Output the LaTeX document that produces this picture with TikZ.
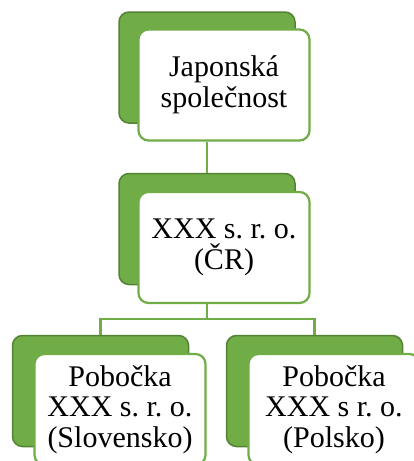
\documentclass[tikz,border=0pt]{standalone}
\usepackage{fontspec}
\setmainfont{Liberation Serif}
\frenchspacing
\definecolor{zelena}{HTML}{70AD47}
\definecolor{tmava}{HTML}{548235}
\begin{document}
\begin{tikzpicture}[x=1pt,y=-1pt,
	zadni/.style={draw=tmava,line width=1.5pt,fill=zelena,rounded corners=10pt,minimum width=176pt,minimum height=111pt,inner sep=0pt},
	predni/.style={draw=zelena,line width=2.2pt,fill=white,rounded corners=10pt,minimum width=171pt,minimum height=111pt,inner sep=0pt,align=center,font=\fontsize{30}{30.5}\selectfont},
	spoj/.style={draw=zelena,line width=2.2pt}]
		\useasboundingbox (0,0) rectangle (414,461);
		\clip (0,0) rectangle (414,461);
		% zadni zelene obdelniky
		\node[zadni] (spolbg) at (207,67.5) {};
		\node[zadni] (crbg) at (207,229) {};
		\node[zadni] (skbg) at (100.5,391) {};
		\node[zadni] (plbg) at (314.5,391) {};
		% predni bile obdelniky
		\node[predni] (spol) at (224,85) {Japonská\\společnost};
		\node[predni] (cr) at (224,247.5) {XXX s. r. o.\\(ČR)};
		\node[predni] (sk) at (120,409.5) {Pobočka\\XXX s. r. o.\\(Slovensko)};
		\node[predni] (pl) at (334,409.5) {Pobočka\\XXX s r. o.\\(Polsko)};
		% spoje
		\coordinate (rozc) at (207,319);
		\draw[spoj] (spol.south -| spolbg) -- (crbg.north);
		\draw[spoj] (cr.south -| crbg) -- (rozc);
		\draw[spoj] (skbg.north) |- (rozc) -| (plbg.north);
\end{tikzpicture}
\end{document}
